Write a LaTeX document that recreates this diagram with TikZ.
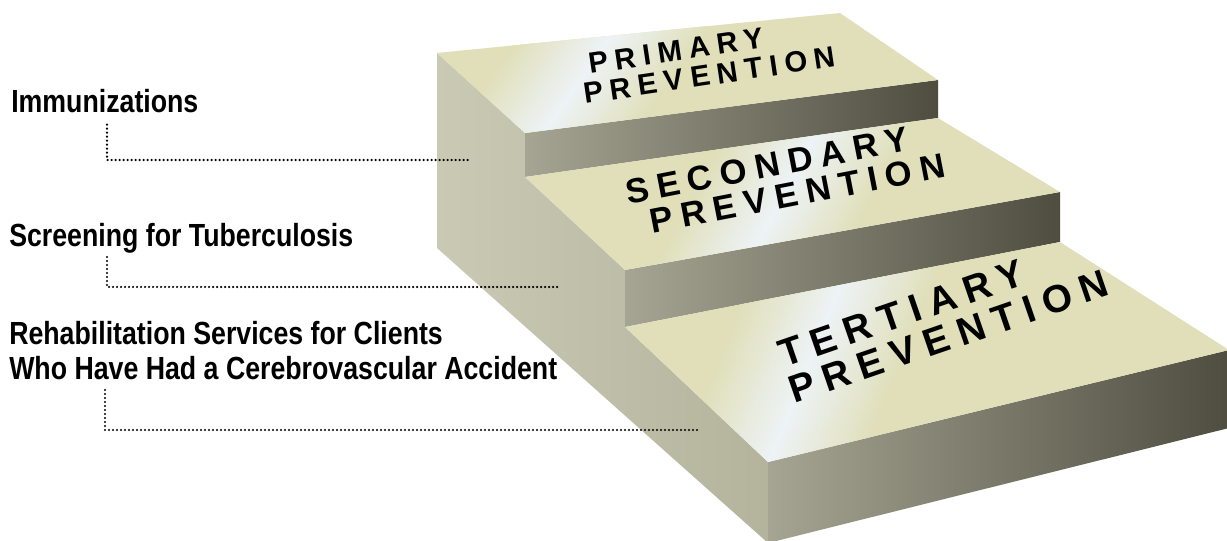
\documentclass[tikz,border=0pt]{standalone}
\usepackage{fontspec}
\setmainfont{Liberation Sans}
\newfontfamily\labelfont[FakeStretch=0.835]{Liberation Sans}
\newfontfamily\stepfont[LetterSpace=24]{Liberation Sans}
\definecolor{topbeige}{RGB}{224,223,186}
\definecolor{bandwhite}{RGB}{237,243,246}
\definecolor{riserL}{RGB}{166,164,146}
\definecolor{riserR}{RGB}{78,77,64}
\definecolor{sideL}{RGB}{202,201,180}
\definecolor{sideR}{RGB}{180,179,156}
\begin{document}
\begin{tikzpicture}[x=0.75pt,y=0.75pt,
  dotline/.style={line width=1.8pt, line cap=round, dash pattern=on 0pt off 3pt},
  lbl/.style={font=\labelfont\bfseries\fontsize{24pt}{26.25pt}\selectfont, inner sep=0pt, align=left},
  steptxt/.style={inner sep=0pt, anchor=base west},
  riser/.style={left color=riserL, right color=riserR},
  side/.style={left color=sideL, right color=sideR},
  band/.style={left color=topbeige, right color=topbeige, middle color=bandwhite}]
\useasboundingbox (0,0) rectangle (1227,-541);
\fill[white] (0,0) rectangle (1227,-541);
% corner points
\coordinate (A) at (437,-53);
\coordinate (B) at (525,-133);
\coordinate (C) at (525,-177);
\coordinate (D) at (840,-13);
\coordinate (E) at (938,-80);
\coordinate (F) at (938,-118);
\coordinate (G) at (625,-270);
\coordinate (H) at (625,-327);
\coordinate (I) at (1060,-192);
\coordinate (J) at (1060,-242);
\coordinate (M) at (768,-462);
\coordinate (N) at (768,-543);
\coordinate (K) at (1229,-350);
\coordinate (L) at (1229,-428);
\coordinate (P) at (437,-248);
% side panel
\shade[side] (A)--(B)--(C)--(G)--(H)--(M)--(N)--(P)--cycle;
% risers
\shade[riser] (B)--(E)--(F)--(C)--cycle;
\shade[riser] (G)--(I)--(J)--(H)--cycle;
\shade[riser] (M)--(K)--(L)--(N)--cycle;
% top faces
\begin{scope}
  \clip (A)--(D)--(E)--(B)--cycle;
  \fill[topbeige] (A)--(D)--(E)--(B)--cycle;
  \begin{scope}[transform canvas={shift={(574,-88)}, rotate=-35}]
    \shade[band] (-75,-300) rectangle (75,300);
  \end{scope}
\end{scope}
\begin{scope}
  \clip (C)--(F)--(I)--(G)--cycle;
  \fill[topbeige] (C)--(F)--(I)--(G)--cycle;
  \begin{scope}[transform canvas={shift={(780,-200)}, rotate=-28}]
    \shade[band] (-80,-300) rectangle (80,300);
  \end{scope}
\end{scope}
\begin{scope}
  \clip (H)--(J)--(K)--(M)--cycle;
  \fill[topbeige] (H)--(J)--(K)--(M)--cycle;
  \begin{scope}[transform canvas={shift={(805,-372)}, rotate=-22}]
    \shade[band] (-85,-300) rectangle (85,300);
  \end{scope}
\end{scope}
% step texts
\node[steptxt, font=\stepfont\bfseries\fontsize{22pt}{22pt}\selectfont, rotate=8.5] (prim1) at (590,-74) {PRIMARY};
\node[steptxt, font=\stepfont\bfseries\fontsize{22pt}{22pt}\selectfont, rotate=8.5] (prim2) at (585,-104) {PREVENTION};
\node[steptxt, font=\stepfont\bfseries\fontsize{26pt}{26pt}\selectfont, rotate=11] (sec1) at (628,-205) {SECONDARY};
\node[steptxt, font=\stepfont\bfseries\fontsize{26pt}{26pt}\selectfont, rotate=11] (sec2) at (652,-234) {PREVENTION};
\node[steptxt, font=\stepfont\bfseries\fontsize{29pt}{29pt}\selectfont, rotate=19] (ter1) at (784,-368) {TERTIARY};
\node[steptxt, font=\stepfont\bfseries\fontsize{29pt}{29pt}\selectfont, rotate=19] (ter2) at (794,-404) {PREVENTION};
% labels
\node[lbl, anchor=base west] (imm) at (11,-113) {Immunizations};
\node[lbl, anchor=base west] (tb) at (9,-247) {Screening for Tuberculosis};
\node[lbl, anchor=south west] (rehab) at (9,-380) {Rehabilitation Services for Clients\\Who Have Had a Cerebrovascular Accident};
\coordinate (e1) at (470,-160);
\coordinate (e2) at (560,-287);
\coordinate (e3) at (700,-430);
\draw[dotline] (imm.south west) ++(96,-11) |- (e1);
\draw[dotline] (tb.south west) ++(98,-3) |- (e2);
\draw[dotline] (rehab.south west) ++(96,-10) |- (e3);
\end{tikzpicture}
\end{document}
